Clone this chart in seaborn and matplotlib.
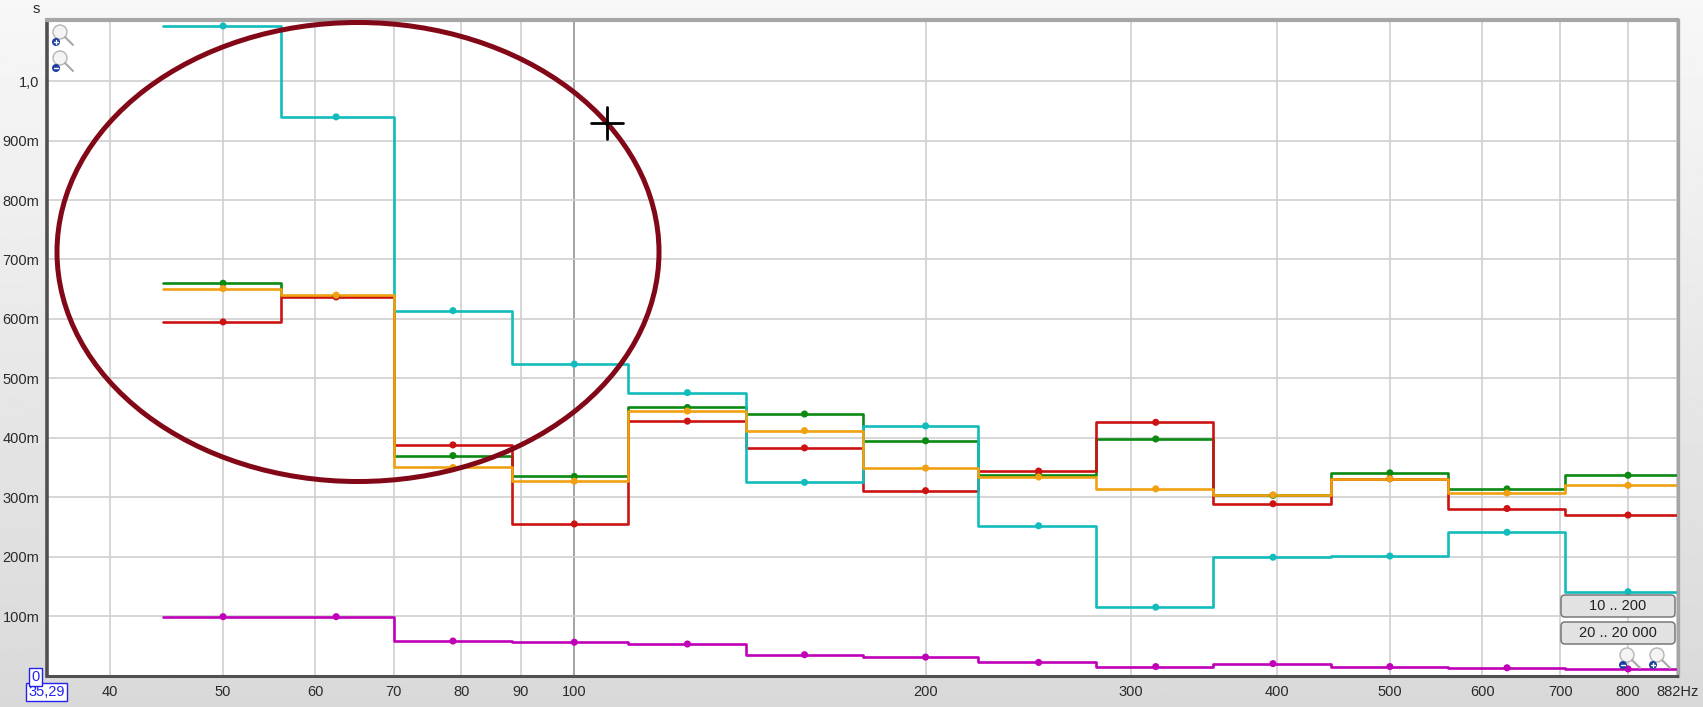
import numpy as np
import pandas as pd
import matplotlib
matplotlib.use("Agg")
import matplotlib.pyplot as plt
import seaborn as sns
from matplotlib.patches import Ellipse, FancyBboxPatch, Circle

# third octave bands
edges = [44.4, 56.1, 70.1, 88.4, 111.2, 140.3, 176.6, 222, 280, 353, 445, 561, 706, 891]
centers = [50, 62.5, 78.7, 100, 125, 157.5, 200, 250, 315, 397, 500, 630, 800]

teal = [1.093, 0.940, 0.614, 0.524, 0.476, 0.325, 0.420, 0.252, 0.115, 0.199, 0.201, 0.241, 0.141]
green = [0.660, 0.638, 0.370, 0.335, 0.451, 0.440, 0.395, 0.338, 0.398, 0.303, 0.341, 0.314, 0.337]
orange = [0.651, 0.640, 0.350, 0.327, 0.445, 0.412, 0.349, 0.334, 0.314, 0.304, 0.331, 0.307, 0.320]
red = [0.595, 0.637, 0.388, 0.255, 0.428, 0.383, 0.311, 0.344, 0.426, 0.289, 0.331, 0.281, 0.270]
magenta = [0.099, 0.099, 0.058, 0.056, 0.053, 0.035, 0.031, 0.022, 0.015, 0.020, 0.015, 0.013, 0.011]

xticks = [35.29, 40, 50, 60, 70, 80, 90, 100, 200, 300, 400, 500, 600, 700, 800, 882]
xlabels = ["35,29", "40", "50", "60", "70", "80", "90", "100", "200", "300", "400", "500", "600", "700", "800", "882Hz"]
yticks = [0, 0.1, 0.2, 0.3, 0.4, 0.5, 0.6, 0.7, 0.8, 0.9, 1.0]
ylabels = ["0", "100m", "200m", "300m", "400m", "500m", "600m", "700m", "800m", "900m", "1,0"]

series = {"magenta": magenta, "green": green, "red": red, "teal": teal, "orange": orange}
colors = {"magenta": "#c000b8", "green": "#0b8a12", "red": "#cc1212", "teal": "#12bcbc", "orange": "#f0a010"}

W, H = 1703, 707
sns.set_theme(style="whitegrid")
plt.rcParams["font.family"] = ["Liberation Sans", "DejaVu Sans"]

rows = []
dots = []
for name, vals in series.items():
    for i, v in enumerate(vals):
        rows.append({"f": edges[i], "t": v, "s": name})
        dots.append({"f": centers[i], "t": v, "s": name})
    rows.append({"f": edges[-1], "t": vals[-1], "s": name})
steps = pd.DataFrame(rows)
points = pd.DataFrame(dots)

fig = plt.figure(figsize=(W / 100, H / 100), dpi=100)

# window background
bg = fig.add_axes([0, 0, 1, 1], zorder=0)
grad = np.linspace(0.97, 0.85, 256).reshape(-1, 1)
bg.imshow(grad, aspect="auto", cmap="gray", vmin=0, vmax=1, extent=[0, W, H, 0])
bg.set_xlim(0, W)
bg.set_ylim(H, 0)
bg.axis("off")

ax = fig.add_axes([46.5 / W, 1 - 675.5 / H, (1677.5 - 46.5) / W, (675.5 - 20) / H], zorder=1)
ax.set_facecolor("white")
sns.lineplot(data=steps, x="f", y="t", hue="s", hue_order=list(series), palette=colors,
             drawstyle="steps-post", estimator=None, sort=False, linewidth=1.9,
             legend=False, ax=ax)
sns.scatterplot(data=points, x="f", y="t", hue="s", hue_order=list(series), palette=colors,
                s=26, linewidth=0, legend=False, ax=ax, zorder=4)
ax.set_xscale("log")
ax.set_xlim(35.29, 882)
ax.set_ylim(0, 1.103)
ax.set_xlabel("")
ax.set_ylabel("")
ax.set_xticks(xticks)
ax.set_xticklabels(xlabels)
ax.xaxis.set_minor_locator(matplotlib.ticker.NullLocator())
ax.set_yticks(yticks)
ax.set_yticklabels(ylabels)
ax.tick_params(length=0, labelsize=10.5, colors="#2a2a2a")
ax.tick_params(axis="x", pad=7)
ax.tick_params(axis="y", pad=5)
ax.grid(True, color="#d0d0d0", linewidth=1.2)
ax.set_axisbelow(True)
ax.get_xgridlines()[xticks.index(100)].set_color("#949494")

# blue boxed labels at the origin
for lab in (ax.get_xticklabels()[0], ax.get_yticklabels()[0]):
    lab.set_color("#2222ee")
    lab.set_bbox(dict(facecolor="white", edgecolor="#2222ee", linewidth=1, pad=1.5))

for side, col, lw in [("left", "#505050", 2.6), ("bottom", "#505050", 2.2),
                      ("top", "#a6a6a6", 3), ("right", "#a6a6a6", 2.4)]:
    ax.spines[side].set_visible(True)
    ax.spines[side].set_color(col)
    ax.spines[side].set_linewidth(lw)

# screen overlay in pixel coordinates
ov = fig.add_axes([0, 0, 1, 1], zorder=2)
ov.set_xlim(0, W)
ov.set_ylim(H, 0)
ov.axis("off")
ov.patch.set_alpha(0)

ov.text(36, 9, "s", ha="center", va="center", fontsize=10.5, color="#2a2a2a")
ov.add_patch(Ellipse((358, 252), 602, 459, fill=False, edgecolor="#820818", linewidth=3.6))
ov.plot([607, 607], [107, 139], color="black", lw=2)
ov.plot([591, 623], [123, 123], color="black", lw=2)


def magnifier(x, y, sign):
    ov.add_patch(Circle((x, y), 7, facecolor="#f4f4f4", edgecolor="#b5b5b5", lw=1))
    ov.plot([x + 5, x + 13], [y + 5, y + 13], color="#a8a8a8", lw=1.5)
    ov.add_patch(Circle((x - 4, y + 10), 4, facecolor="#1c3fa0", edgecolor="none"))
    ov.plot([x - 6, x - 2], [y + 10, y + 10], color="white", lw=1)
    if sign == "+":
        ov.plot([x - 4, x - 4], [y + 8, y + 12], color="white", lw=1)


magnifier(60, 32, "+")
magnifier(60, 58, "-")
magnifier(1627, 655, "-")
magnifier(1657, 655, "+")

for y0, lab in [(595, "10 .. 200"), (622, "20 .. 20 000")]:
    ov.add_patch(FancyBboxPatch((1561, y0), 114, 22, boxstyle="round,pad=0,rounding_size=4",
                                facecolor="#e2e2e2", edgecolor="#777777", linewidth=1.1))
    ov.text(1618, y0 + 11, lab, ha="center", va="center", fontsize=10.5, color="#222222")

fig.savefig("out.png", dpi=100)
